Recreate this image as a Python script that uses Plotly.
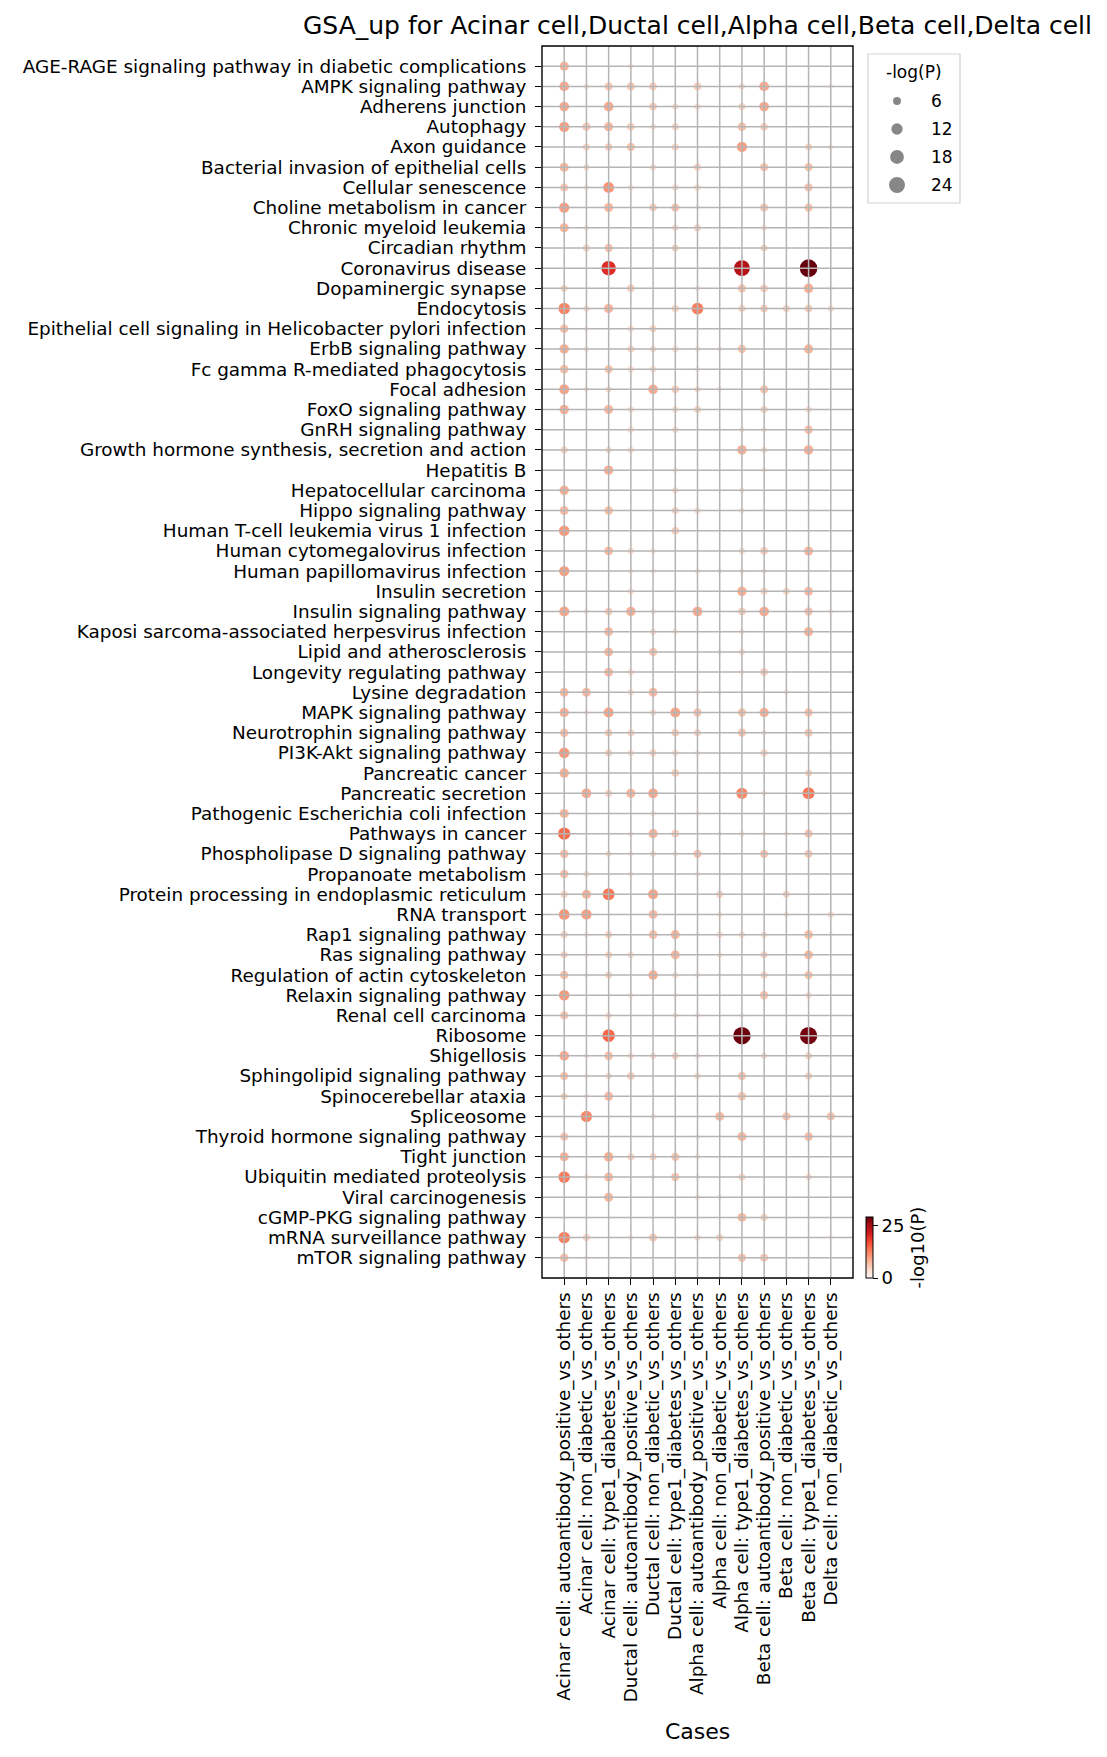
import numpy as np
import plotly.graph_objects as go

_ = None  # no enrichment dot for this pathway / case

PATHWAYS = [
    "AGE-RAGE signaling pathway in diabetic complications", "AMPK signaling pathway",
    "Adherens junction", "Autophagy", "Axon guidance", "Bacterial invasion of epithelial cells",
    "Cellular senescence", "Choline metabolism in cancer", "Chronic myeloid leukemia",
    "Circadian rhythm", "Coronavirus disease", "Dopaminergic synapse", "Endocytosis",
    "Epithelial cell signaling in Helicobacter pylori infection", "ErbB signaling pathway",
    "Fc gamma R-mediated phagocytosis", "Focal adhesion", "FoxO signaling pathway",
    "GnRH signaling pathway", "Growth hormone synthesis, secretion and action", "Hepatitis B",
    "Hepatocellular carcinoma", "Hippo signaling pathway", "Human T-cell leukemia virus 1 infection",
    "Human cytomegalovirus infection", "Human papillomavirus infection", "Insulin secretion",
    "Insulin signaling pathway", "Kaposi sarcoma-associated herpesvirus infection",
    "Lipid and atherosclerosis", "Longevity regulating pathway", "Lysine degradation",
    "MAPK signaling pathway", "Neurotrophin signaling pathway", "PI3K-Akt signaling pathway",
    "Pancreatic cancer", "Pancreatic secretion", "Pathogenic Escherichia coli infection",
    "Pathways in cancer", "Phospholipase D signaling pathway", "Propanoate metabolism",
    "Protein processing in endoplasmic reticulum", "RNA transport", "Rap1 signaling pathway",
    "Ras signaling pathway", "Regulation of actin cytoskeleton", "Relaxin signaling pathway",
    "Renal cell carcinoma", "Ribosome", "Shigellosis", "Sphingolipid signaling pathway",
    "Spinocerebellar ataxia", "Spliceosome", "Thyroid hormone signaling pathway", "Tight junction",
    "Ubiquitin mediated proteolysis", "Viral carcinogenesis", "cGMP-PKG signaling pathway",
    "mRNA surveillance pathway", "mTOR signaling pathway",
]

CASES = [
    "Acinar cell: autoantibody_positive_vs_others", "Acinar cell: non_diabetic_vs_others",
    "Acinar cell: type1_diabetes_vs_others", "Ductal cell: autoantibody_positive_vs_others",
    "Ductal cell: non_diabetic_vs_others", "Ductal cell: type1_diabetes_vs_others",
    "Alpha cell: autoantibody_positive_vs_others", "Alpha cell: non_diabetic_vs_others",
    "Alpha cell: type1_diabetes_vs_others", "Beta cell: autoantibody_positive_vs_others",
    "Beta cell: non_diabetic_vs_others", "Beta cell: type1_diabetes_vs_others",
    "Delta cell: non_diabetic_vs_others",
]

# -log10(P) per case, one entry per pathway (same order as PATHWAYS)
ACINAR_AAB = [8, 9, 9, 10, _, 7.8, 6, 10, 7.8, _,
              _, 4.8, 12.5, 7, 8.5, 7, 9.5, 8.5, _, 4.8,
              _, 8.5, 7.5, 10.5, _, 10, _, 9.5, _, _,
              _, 7.5, 8.5, 7, 10.5, 8.5, _, 8, 14.5, 7,
              7, 4.8, 11, 4.8, 4.8, 7, 10.5, 6.5, _, 9,
              6.5, 4.8, _, 6.5, 8, 13, _, _, 12.5, 7]
ACINAR_ND = [_, 2.8, _, 6, 4.8, 3.8, 2.4, _, 2.8, 4.8,
             _, _, 3.8, 2.4, 2.8, _, 2.4, _, _, _,
             _, _, _, _, _, _, _, 2.4, _, _,
             _, 7.5, 2.4, _, _, _, 9, _, _, _,
             3.8, 8, 10, 2.4, 2.0, 2.2, _, _, _, 2.4,
             2.2, 2.4, 12, _, _, 2.8, _, _, 4.8, 2.0]
ACINAR_T1D = [_, 6, 9, 7.8, 5.5, _, 11, 7.8, _, 6.5,
              20, _, 8, _, _, 6.5, 3.8, 7.8, _, 3.8,
              8.5, _, 7, _, 7.5, _, _, 5.5, 7.5, 7.5,
              7.5, _, 9.5, 5.5, 4.8, _, 4.8, _, _, 3.8,
              _, 13.5, _, 4.8, 4.8, 4.8, _, 3.8, 15, 7,
              3.8, 7.5, _, _, 8.5, 7.5, 7.8, _, _, _]
DUCTAL_AAB = [2.8, 6, _, 5.5, 6.5, _, 2.8, _, _, _,
              _, 5.5, _, 3.8, 4.8, 3.8, _, 3.8, 3.8, 3.8,
              _, _, _, _, 3.8, 2.8, 3.8, 8.5, _, _,
              3.8, 3.8, _, 4.8, 3.8, _, 8, _, 2.8, 2.8,
              2.8, _, _, _, 3.8, _, 2.8, _, _, 3.8,
              5.5, _, _, _, 4.8, _, _, _, 2.4, _]
DUCTAL_ND = [_, 5.5, 5.5, 3.4, _, 3.8, _, 5.5, _, _,
             _, _, _, 4.8, 3.8, 3.8, 9, _, _, _,
             _, _, _, _, 2.8, 2.8, _, 2.8, 3.8, 6.5,
             _, 7.5, 3.8, _, 4.8, _, 9, 2.8, 8, 3.8,
             _, 9.5, 7.5, 7, _, 8.5, _, _, _, 3.8,
             _, _, 2.8, _, 4.8, 2.2, _, _, 6, _]
DUCTAL_T1D = [_, _, 3.8, 4.8, 4.8, _, 3.8, 6.5, 3.8, 4.8,
              _, _, 4.8, _, 3.8, _, 5.5, 3.8, 3.8, _,
              2.8, 3.8, 4.8, 5.5, _, _, _, _, 2.8, _,
              _, _, 9.5, 5.5, 3.8, 5.5, _, _, 5.5, 2.8,
              _, _, _, 7.8, 7.8, 3.8, 2.4, 2.8, _, 4.8,
              _, _, _, _, 6.5, 6.5, _, _, _, _]
ALPHA_AAB = [_, 5.5, 3.8, _, _, 4.8, 3.8, 2.4, 4.8, _,
             _, 2.8, 13, _, 2.8, 2.4, 3.8, 4.8, _, _,
             _, _, 3.8, _, _, 2.8, _, 9, _, _,
             _, 2.4, 6.5, 4.8, 2.8, _, _, 2.2, _, 6.5,
             2.4, _, _, 2.2, _, 2.8, _, 2.8, _, 2.8,
             3.8, _, _, 2.4, 2.8, 2.2, 2.8, _, 3.8, _]
ALPHA_ND = [_, _, _, _, _, _, _, _, _, _,
            _, _, _, _, 2.4, _, 2.4, _, _, _,
            _, _, _, _, _, 2.2, _, _, _, 2.2,
            _, 2.2, _, _, _, _, _, _, 2.2, _,
            _, 4.8, 2.8, 3.8, 2.8, 2.2, _, _, _, _,
            _, _, 7.5, _, _, _, 2.2, _, 4.8, _]
ALPHA_T1D = [_, 3.8, 4.8, 7, 10, _, _, _, _, _,
             24, 6.5, 4.8, _, 6.5, _, _, _, 2.8, 8.5,
             _, 2.8, 2.8, _, 3.8, 2.8, 8.5, 5.5, 2.8, 3.8,
             2.8, _, 6.5, 6.5, _, _, 12, _, 2.8, _,
             _, _, _, 3.8, _, _, _, 2.4, 29, _,
             6.5, 6.5, _, 7.8, _, 4.8, _, 7.5, _, 6.5]
BETA_AAB = [_, 9, 9, 5.5, _, 6.5, _, 6, 3.4, 4.8,
            _, 5.5, 5.5, _, _, _, 6.5, 4.8, 2.8, 3.8,
            2.4, _, _, _, 5.5, 2.8, 4.8, 9, _, _,
            5.5, _, 8.5, 2.8, 4.8, _, 2.8, _, 2.4, 6.5,
            _, _, _, 3.8, 4.8, 4.8, 6.5, _, _, 3.8,
            _, _, _, _, _, _, _, 4.8, _, 6]
BETA_ND = [_, _, _, _, _, _, _, _, _, _,
           _, _, 4.8, _, _, _, _, _, _, _,
           _, _, _, _, _, _, 4.8, _, _, _,
           _, 2.4, _, _, _, _, _, _, 2.4, _,
           _, 4.8, 2.8, _, _, _, _, _, _, _,
           _, _, 6.5, _, _, _, _, _, _, _]
BETA_T1D = [_, _, _, _, 4.8, 6.5, 6.5, 6.5, _, _,
            29.3, 8.5, 5.5, _, 8, _, _, 3.8, 7, 8.5,
            _, _, _, _, 7.8, _, 7.5, 6.5, 8, _,
            _, _, 6.5, 6, _, 4.8, 13.5, _, 6.5, 6,
            _, _, _, 7, 7.5, 6.5, 3.8, _, 28.5, 4.8,
            4.8, _, _, 7, _, 3.8, _, _, _, _]
DELTA_ND = [_, 2.4, _, _, 2.8, _, _, _, _, _,
            _, 2.4, 3.8, _, _, _, _, _, _, _,
            _, _, _, _, _, _, _, 2.4, _, _,
            _, _, _, _, 2.2, _, _, _, _, _,
            _, _, 3.8, 2.2, _, 2.2, _, _, _, _,
            _, _, 6.5, 2.2, _, _, _, _, 2.2, _]

CASE_VALUES = [ACINAR_AAB, ACINAR_ND, ACINAR_T1D, DUCTAL_AAB, DUCTAL_ND, DUCTAL_T1D,
               ALPHA_AAB, ALPHA_ND, ALPHA_T1D, BETA_AAB, BETA_ND, BETA_T1D, DELTA_ND]

SIZE_LEGEND = [6, 12, 18, 24]
COLORBAR_TICKS = [0, 25]

# matplotlib "Reds"
REDS = ["#fff5f0", "#fee0d2", "#fcbba1", "#fc9272", "#fb6a4a",
        "#ef3b2c", "#cb181d", "#a50f15", "#67000d"]
FONT = "DejaVu Sans"

# figure / axes geometry in pixels
W, H = 1107, 1757
L, R, T, B = 542, 853, 46, 1278


def px_x(x):
    return (x - L) / (R - L)


def px_y(y):
    return (B - y) / (B - T)


def dot_size(v):
    # marker area proportional to -log10(P)
    return 3.25 * np.sqrt(v)


xs, ys, vals = [], [], []
for case, col in zip(CASES, CASE_VALUES):
    for pw, v in zip(PATHWAYS, col):
        if v is not None:
            xs.append(case)
            ys.append(pw)
            vals.append(v)
vals = np.array(vals, dtype=float)

fig = go.Figure()
fig.add_trace(go.Scatter(
    x=xs, y=ys, mode="markers",
    marker=dict(
        size=dot_size(vals), color=vals, colorscale=[[i / 8, c] for i, c in enumerate(REDS)],
        cmin=0, cmax=vals.max(), line=dict(width=0), opacity=1,
        colorbar=dict(
            x=px_x(866), xanchor="left", y=0, yanchor="bottom",
            len=61, lenmode="pixels", thickness=7, thicknessmode="pixels",
            xpad=0, ypad=0, outlinewidth=1, outlinecolor="black",
            tickvals=COLORBAR_TICKS, ticks="outside", ticklen=5, tickcolor="black",
            tickfont=dict(family=FONT, size=18, color="black"),
            title=dict(text="-log10(P)", side="right", font=dict(family=FONT, size=18, color="black")),
        ),
    ),
    showlegend=False, hoverinfo="x+y+text", text=[f"{v:g}" for v in vals],
))

shapes = []
# grid drawn on top of the dots, like the original
for i in range(len(CASES)):
    shapes.append(dict(type="line", xref="x", yref="paper", x0=i, x1=i, y0=0, y1=1,
                       line=dict(color="#b5b5b5", width=1.5), layer="above"))
for j in range(len(PATHWAYS)):
    shapes.append(dict(type="line", xref="paper", yref="y", x0=0, x1=1, y0=j, y1=j,
                       line=dict(color="#b5b5b5", width=1.5), layer="above"))
# frame
shapes.append(dict(type="rect", xref="paper", yref="paper", x0=0, x1=1, y0=0, y1=1,
                   line=dict(color="black", width=1.4), layer="above"))

# size legend box
shapes.append(dict(type="rect", xref="paper", yref="paper",
                   x0=px_x(868), x1=px_x(960), y0=px_y(203), y1=px_y(54),
                   line=dict(color="#d3d3d3", width=1.2), fillcolor="white", layer="above"))
annotations = [dict(text="-log(P)", xref="paper", yref="paper", x=px_x(914), y=px_y(72),
                    showarrow=False, xanchor="center", yanchor="middle",
                    font=dict(family=FONT, size=17, color="black"))]
for k, v in enumerate(SIZE_LEGEND):
    yc = 101 + k * 28
    d = float(dot_size(v))
    shapes.append(dict(type="circle", xref="paper", yref="paper",
                       xsizemode="pixel", ysizemode="pixel",
                       xanchor=px_x(897), yanchor=px_y(yc),
                       x0=-d / 2, x1=d / 2, y0=-d / 2, y1=d / 2,
                       fillcolor="#878787", line=dict(width=0), layer="above"))
    annotations.append(dict(text=str(v), xref="paper", yref="paper", x=px_x(929), y=px_y(yc),
                            showarrow=False, xanchor="left", yanchor="middle",
                            font=dict(family=FONT, size=17, color="black")))

annotations.append(dict(text="Cases", xref="paper", yref="paper", x=0.5, y=px_y(1731),
                        showarrow=False, xanchor="center", yanchor="middle",
                        font=dict(family=FONT, size=22, color="black")))

axis_common = dict(
    type="category", showgrid=False, zeroline=False, showline=False,
    ticks="outside", ticklen=6, tickwidth=1.3, tickcolor="black",
    tickfont=dict(family=FONT, size=18.4, color="black"),
    tickmode="linear", tick0=0, dtick=1, automargin=False, fixedrange=True,
)

fig.update_layout(
    width=W, height=H, template="none",
    paper_bgcolor="white", plot_bgcolor="white",
    margin=dict(l=L, r=W - R, t=T, b=H - B, pad=0),
    title=dict(text="GSA_up for Acinar cell,Ductal cell,Alpha cell,Beta cell,Delta cell",
               x=0.5, xref="paper", xanchor="center", y=1 - 25 / H, yref="container",
               yanchor="middle", font=dict(family=FONT, size=25, color="black")),
    xaxis=dict(axis_common, categoryorder="array", categoryarray=CASES,
               range=[-1, len(CASES)], tickangle=-90, ticklabelstandoff=0),
    yaxis=dict(axis_common, categoryorder="array", categoryarray=PATHWAYS,
               range=[len(PATHWAYS), -1], ticklabelstandoff=5),
    shapes=shapes, annotations=annotations,
    font=dict(family=FONT, color="black"),
)

# page body has a default 8px margin; drop it so the figure sits at the window origin
fig.write_html("out.html", config={"displayModeBar": False},
               post_script="document.body.style.margin='0';")
